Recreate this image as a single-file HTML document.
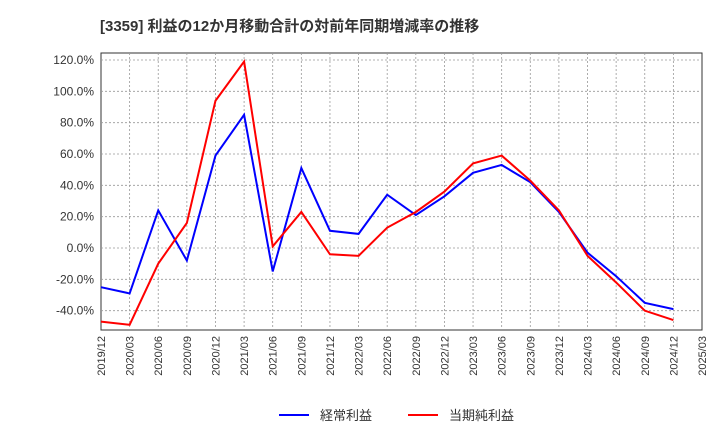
<!DOCTYPE html>
<html><head><meta charset="utf-8"><style>
body{margin:0;background:#fff;font-family:"Liberation Sans","Noto Sans CJK JP",sans-serif;}
</style></head><body>
<svg width="720" height="440" xmlns="http://www.w3.org/2000/svg" id="chart" font-family="Liberation Sans, Noto Sans CJK JP, sans-serif">
<text x="100" y="31" font-size="15" font-weight="bold" fill="#333">[3359]  利益の12か月移動合計の対前年同期増減率の推移</text>
<rect x="101" y="53" width="601" height="277" fill="none" stroke="#333"/>
<g id="grid"></g><g id="yaxis"></g><g id="xaxis"></g><g id="series"></g>
<g>
<line x1="279" y1="415" x2="309" y2="415" stroke="#0000ff" stroke-width="2"/>
<text x="320" y="420" font-size="13" fill="#333">経常利益</text>
<line x1="408" y1="415" x2="438" y2="415" stroke="#ff0000" stroke-width="2"/>
<text x="449" y="420" font-size="13" fill="#333">当期純利益</text>
</g>
</svg>
<script>
const categories=["2019/12","2020/03","2020/06","2020/09","2020/12","2021/03","2021/06","2021/09","2021/12","2022/03","2022/06","2022/09","2022/12","2023/03","2023/06","2023/09","2023/12","2024/03","2024/06","2024/09","2024/12","2025/03"];
const keijo=[-25,-29,24,-8,59,85,-15,51,11,9,34,21,33,48,53,42,23,-3,-18,-35,-39];
const junri=[-47,-49,-10,16,94,119,1,23,-4,-5,13,23,36,54,59,43,24,-5,-22,-40,-46];
const yTicks=[120,100,80,60,40,20,0,-20,-40];
const NS="http://www.w3.org/2000/svg";
const x=i=>101+i*(601/21);
const y=v=>248-v*(188/120);
function mk(t,a,p){const e=document.createElementNS(NS,t);for(const k in a)e.setAttribute(k,a[k]);document.getElementById(p).appendChild(e);return e;}
yTicks.forEach(v=>{
 const g=mk("line",{x1:101,x2:702,y1:y(v),y2:y(v),stroke:"#999","stroke-dasharray":"2,2","stroke-width":0.8},"grid");
 
 
 const t=mk("text",{x:94,y:y(v)+4,"text-anchor":"end","font-size":12,fill:"#333"},"yaxis");
 t.textContent=v.toFixed(1)+"%";
 
 
});
categories.forEach((c,i)=>{
 if(i>0&&i<21){const g=mk("line",{x1:x(i),x2:x(i),y1:53,y2:330,stroke:"#999","stroke-dasharray":"2,2","stroke-width":0.8},"grid");
 
 }
 const t=mk("text",{x:0,y:0,"text-anchor":"end","font-size":11,fill:"#333",transform:`translate(${x(i)+4},336) rotate(-90)`},"xaxis");
 t.textContent=c;
 
 
});
[[keijo,"#0000ff","keijo-line"],[junri,"#ff0000","junri-line"]].forEach(([d,col,n])=>{
 const p=mk("polyline",{points:d.map((v,i)=>x(i)+","+y(v)).join(" "),fill:"none",stroke:col,"stroke-width":2},"series");
 
 
});
</script>
</body></html>
